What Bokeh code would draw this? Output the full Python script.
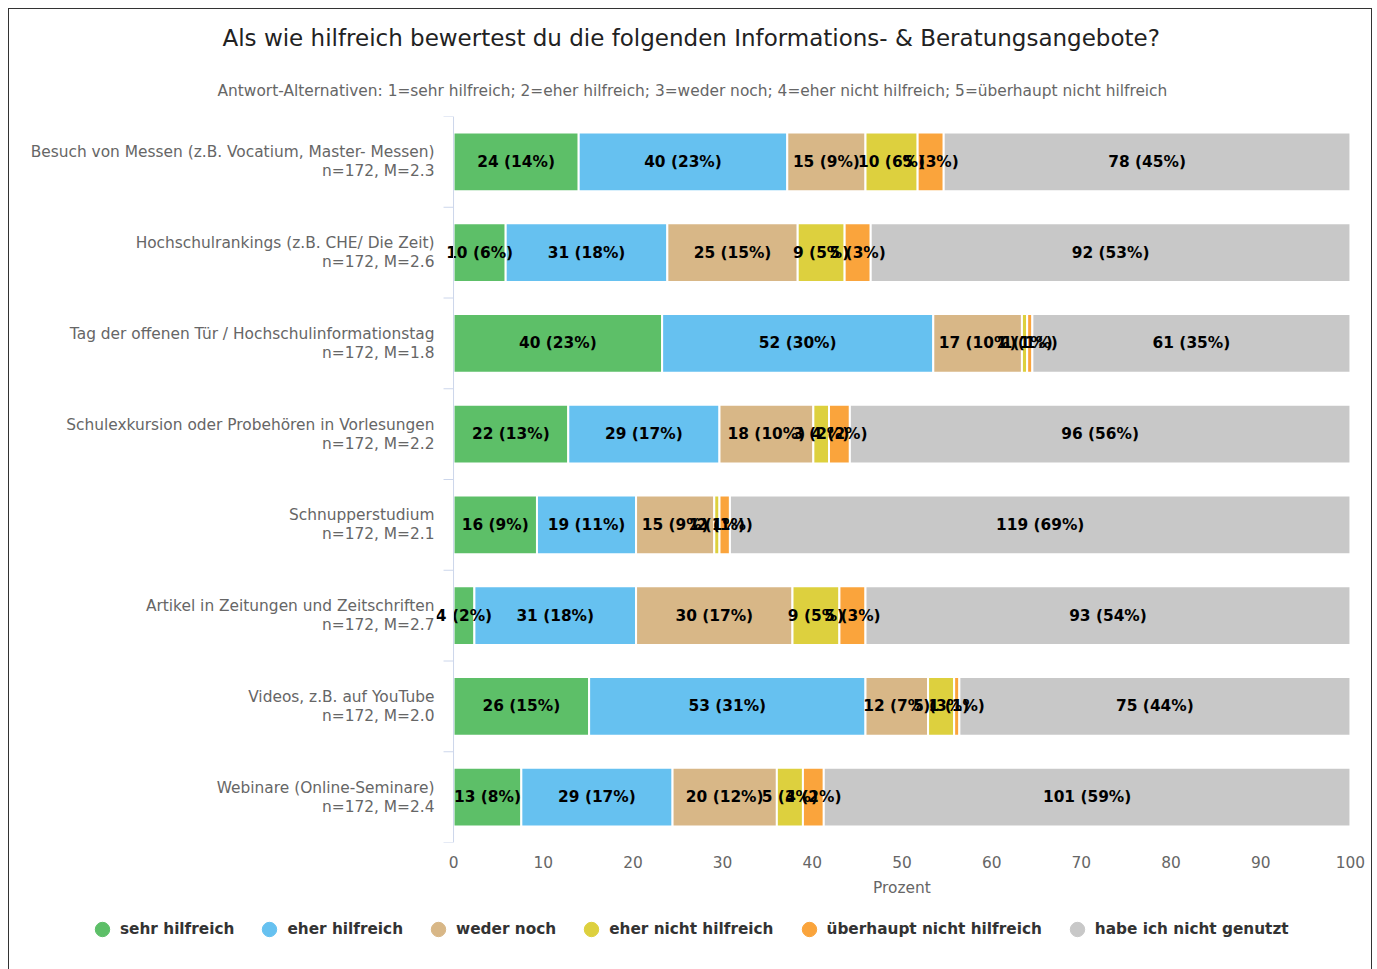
from bokeh.plotting import figure
from bokeh.layouts import column
from bokeh.models import Range1d, FixedTicker, Legend, LegendItem, Title, Span
from bokeh.core.properties import value
from bokeh.embed import file_html
from bokeh.resources import INLINE

# ---- data ----
categories = [
    "Besuch von Messen (z.B. Vocatium, Master- Messen)",
    "Hochschulrankings (z.B. CHE/ Die Zeit)",
    "Tag der offenen Tür / Hochschulinformationstag",
    "Schulexkursion oder Probehören in Vorlesungen",
    "Schnupperstudium",
    "Artikel in Zeitungen und Zeitschriften",
    "Videos, z.B. auf YouTube",
    "Webinare (Online-Seminare)",
]
n_total = [172, 172, 172, 172, 172, 172, 172, 172]
means = [2.3, 2.6, 1.8, 2.2, 2.1, 2.7, 2.0, 2.4]

series_names = ["sehr hilfreich", "eher hilfreich", "weder noch",
                "eher nicht hilfreich", "überhaupt nicht hilfreich",
                "habe ich nicht genutzt"]
sehr_hilfreich = [24, 10, 40, 22, 16, 4, 26, 13]
eher_hilfreich = [40, 31, 52, 29, 19, 31, 53, 29]
weder_noch = [15, 25, 17, 18, 15, 30, 12, 20]
eher_nicht_hilfreich = [10, 9, 1, 3, 1, 9, 5, 5]
ueberhaupt_nicht_hilfreich = [5, 5, 1, 4, 2, 5, 1, 4]
nicht_genutzt = [78, 92, 61, 96, 119, 93, 75, 101]
series_values = [sehr_hilfreich, eher_hilfreich, weder_noch,
                 eher_nicht_hilfreich, ueberhaupt_nicht_hilfreich, nicht_genutzt]
colors = ["#5dbf68", "#66c1f0", "#d8b787", "#ddd03e", "#faa43c", "#c8c8c8"]
x_ticks = [0, 10, 20, 30, 40, 50, 60, 70, 80, 90, 100]

title_text = "Als wie hilfreich bewertest du die folgenden Informations- & Beratungsangebote?"
subtitle_text = ("Antwort-Alternativen: 1=sehr hilfreich; 2=eher hilfreich; 3=weder noch; "
                 "4=eher nicht hilfreich; 5=überhaupt nicht hilfreich")

FONT = "DejaVu Sans"
FS = "15.4px"
AXIS_COLOR = "#ccd6eb"
N = len(categories)
ys = list(range(N))
W = 1362
X_PAD = 1.9          # room left of 0 (and right of 100) so data labels are not clipped
TICK_LEN = 1.115     # 10 px in x units

p = figure(width=W, height=900, x_range=Range1d(-X_PAD, 100 + X_PAD),
           y_range=Range1d(N - 0.5, -0.5), output_backend="svg",
           toolbar_location=None, min_border_left=427, min_border_right=4,
           min_border_top=107, min_border_bottom=67)
p.outline_line_color = None
p.xgrid.grid_line_color = None
p.ygrid.grid_line_color = None

# category axis line at x = 0 and category boundary ticks
p.add_layout(Span(location=0, dimension="height", line_color=AXIS_COLOR, line_width=1))
bounds = [i - 0.5 for i in range(N + 1)]
p.segment(x0=[-TICK_LEN] * len(bounds), x1=[0] * len(bounds), y0=bounds, y1=bounds,
          line_color=AXIS_COLOR, line_width=1)

left = [0.0] * N
label_sets = []
for name, vals, col in zip(series_names, series_values, colors):
    pct = [v / n * 100 for v, n in zip(vals, n_total)]
    right = [l + w for l, w in zip(left, pct)]
    p.hbar(y=ys, left=left, right=right, height=0.65, fill_color=col,
           line_color="white", line_width=2)
    mids = [(l + r) / 2 for l, r in zip(left, right)]
    labels = [f"{v} ({round(q)}%)" for v, q in zip(vals, pct)]
    label_sets.append((mids, labels))
    left = right

for mids, labels in label_sets:
    p.text(x=mids, y=ys, text=labels, text_align="center", text_baseline="middle",
           text_font=value(FONT), text_font_style="bold", text_font_size=FS,
           text_color="black")

# y axis: two label lines per category (name above, n/M below)
d = 0.105
name_ticks = [round(i - d, 3) for i in ys]
stat_ticks = [round(i + d, 3) for i in ys]
overrides = {}
for t, c in zip(name_ticks, categories):
    overrides[t] = c
for t, n, m in zip(stat_ticks, n_total, means):
    overrides[t] = f"n={n}, M={m}"
yax = p.yaxis[0]
yax.ticker = FixedTicker(ticks=name_ticks + stat_ticks)
yax.major_label_overrides = overrides
yax.axis_line_color = None
yax.major_tick_line_color = None
yax.minor_tick_line_color = None
yax.major_tick_out = 0
yax.major_tick_in = 0
yax.minor_tick_out = 0
yax.minor_tick_in = 0
yax.major_label_standoff = 2
yax.major_label_text_font = FONT
yax.major_label_text_font_size = FS
yax.major_label_text_color = "#666666"

# x axis
xax = p.xaxis[0]
xax.ticker = FixedTicker(ticks=x_ticks)
xax.axis_line_color = None
xax.major_tick_line_color = None
xax.minor_tick_line_color = None
xax.major_tick_out = 0
xax.major_label_standoff = 13
xax.major_label_text_font = FONT
xax.major_label_text_font_size = FS
xax.major_label_text_color = "#666666"
xax.axis_label = "Prozent"
xax.axis_label_text_font = FONT
xax.axis_label_text_font_size = FS
xax.axis_label_text_font_style = "normal"
xax.axis_label_text_color = "#666666"
xax.axis_label_standoff = 8

# titles (subtitle first = closest to the frame)
p.add_layout(Title(text=subtitle_text, align="left", offset=-219, standoff=34,
                   text_font=FONT, text_font_size=FS, text_font_style="normal",
                   text_color="#666666"), "above")
p.add_layout(Title(text=title_text, align="left", offset=-214, standoff=23,
                   text_font=FONT, text_font_size="23px", text_font_style="normal",
                   text_color="#222222"), "above")

# legend strip
pl = figure(width=W, height=62, x_range=Range1d(0, 1), y_range=Range1d(0, 1),
            output_backend="svg", toolbar_location=None,
            min_border_left=0, min_border_right=0, min_border_top=0, min_border_bottom=0)
for fig in (p, pl):
    if hasattr(fig, "frame_align"):
        fig.frame_align = False
pl.axis.visible = False
pl.grid.visible = False
pl.outline_line_color = None
legend_items = []
for name, col in zip(series_names, colors):
    dummy = pl.scatter(x=[float("nan")], y=[float("nan")], marker="circle",
                       fill_color=col, line_color=col)
    legend_items.append(LegendItem(label=name, renderers=[dummy]))
legend = Legend(items=legend_items, orientation="horizontal", location=(75, 23),
                glyph_width=36, glyph_height=38, label_standoff=0, spacing=17,
                padding=0, margin=0, border_line_color=None, background_fill_alpha=0,
                label_text_font=FONT, label_text_font_size="15.3px",
                label_text_font_style="bold", label_text_color="#333333")
pl.add_layout(legend, "center")

layout = column(p, pl, spacing=0,
                styles={"border": "1px solid #333333", "margin": "8px 0 0 8px"})

open("out.html", "w").write(file_html(layout, INLINE))
